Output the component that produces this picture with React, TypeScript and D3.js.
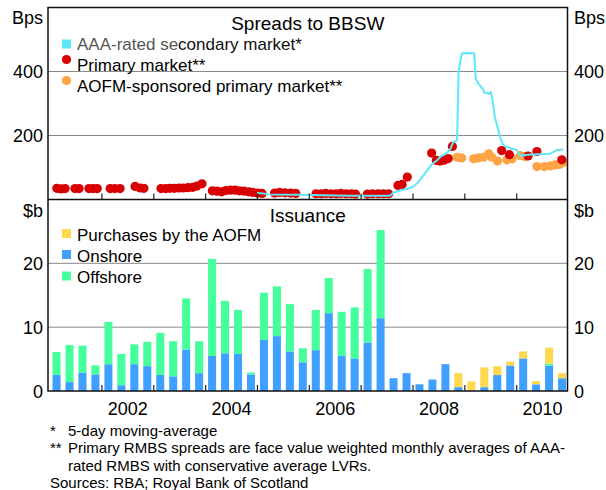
import React from 'react';
import * as d3 from 'd3';

const W = 606;
const H = 490;

// ---- Spreads to BBSW (bps) ----
const aaaSecondaryDates = [
  2004.99, 2005.24, 2005.82, 2006.21, 2006.79, 2007.56, 2007.62, 2007.75, 2007.88, 2008.0,
  2008.07, 2008.14, 2008.27, 2008.36, 2008.46, 2008.54, 2008.65, 2008.72, 2008.78, 2008.85,
  2008.88, 2008.94, 2008.97, 2009.18, 2009.21, 2009.26, 2009.35, 2009.37, 2009.46, 2009.5,
  2009.53, 2009.58, 2009.68, 2009.74, 2009.87, 2010.0, 2010.07, 2010.2, 2010.65, 2010.78, 2010.9,
];
const aaaSecondaryValues = [
  21, 16, 15, 13, 12, 12, 22, 28, 33, 40,
  49, 62, 90, 110, 122, 135, 145, 158, 180, 184,
  400, 455, 458, 457, 378, 362, 345, 335, 330, 336,
  314, 257, 195, 170, 160, 155, 135, 140, 143, 155, 156,
];

const primaryDates = [
  2001.13, 2001.21, 2001.29, 2001.48, 2001.56, 2001.75, 2001.83, 2001.91, 2002.16, 2002.25,
  2002.35, 2002.64, 2002.74, 2002.81, 2003.14, 2003.23, 2003.31, 2003.4, 2003.49, 2003.57,
  2003.66, 2003.75, 2003.83, 2003.93, 2004.13, 2004.22, 2004.31, 2004.39, 2004.48, 2004.57,
  2004.65, 2004.74, 2004.83, 2004.91, 2005.0, 2005.09, 2005.33, 2005.43, 2005.53, 2005.64,
  2005.74, 2006.13, 2006.23, 2006.32, 2006.42, 2006.52, 2006.61, 2006.71, 2006.81, 2006.89,
  2007.12, 2007.22, 2007.33, 2007.43, 2007.53, 2007.71, 2007.79, 2007.89, 2008.36, 2008.45,
  2008.52, 2008.6, 2008.68, 2008.76, 2009.71, 2009.86, 2010.22, 2010.39, 2010.87,
];
const primaryValues = [
  35, 33, 34, 34, 34, 34, 34, 34, 34, 34,
  34, 41, 36, 35, 34, 34, 35, 35, 36, 36,
  37, 38, 42, 49, 27, 26, 24, 28, 29, 29,
  27, 26, 24, 22, 20, 19, 20, 22, 21, 20,
  19, 18, 18, 19, 18, 18, 19, 18, 18, 17,
  17, 18, 18, 18, 18, 44, 47, 70, 145, 122,
  120, 123, 128, 166, 153, 140, 136, 150, 124,
];

const aofmSpreadDates = [
  2008.85, 2008.94, 2009.17, 2009.26, 2009.36, 2009.46, 2009.52, 2009.63, 2009.81, 2009.91,
  2010.07, 2010.16, 2010.39, 2010.53, 2010.65, 2010.74, 2010.83, 2010.9,
];
const aofmSpreadValues = [
  132, 130, 127, 130, 132, 143, 132, 120, 124, 127,
  137, 134, 103, 103, 105, 108, 110, 116,
];

// ---- Issuance ($b), quarterly ----
const quarters = [
  '2001Q1', '2001Q2', '2001Q3', '2001Q4', '2002Q1', '2002Q2', '2002Q3', '2002Q4',
  '2003Q1', '2003Q2', '2003Q3', '2003Q4', '2004Q1', '2004Q2', '2004Q3', '2004Q4',
  '2005Q1', '2005Q2', '2005Q3', '2005Q4', '2006Q1', '2006Q2', '2006Q3', '2006Q4',
  '2007Q1', '2007Q2', '2007Q3', '2007Q4', '2008Q1', '2008Q2', '2008Q3', '2008Q4',
  '2009Q1', '2009Q2', '2009Q3', '2009Q4', '2010Q1', '2010Q2', '2010Q3', '2010Q4',
];
const onshore = [
  2.5, 1.4, 2.9, 2.6, 4.2, 0.9, 4.2, 3.9,
  2.5, 2.3, 6.5, 2.8, 5.5, 5.9, 5.8, 2.6,
  8.0, 8.6, 6.2, 4.5, 6.4, 12.2, 5.5, 5.1,
  7.6, 11.4, 2.0, 2.8, 1.05, 1.8, 4.2, 0.6,
  0.1, 0.6, 2.5, 4.0, 5.1, 1.05, 4.0, 2.0,
];
const offshore = [
  3.6, 5.8, 4.2, 1.4, 6.6, 4.9, 3.1, 3.8,
  6.6, 5.5, 8.0, 5.0, 15.2, 8.2, 6.9, 0.3,
  7.4, 7.8, 7.4, 2.2, 6.3, 5.5, 6.9, 8.0,
  11.5, 13.8, 0, 0, 0, 0, 0, 0,
  0, 0, 0, 0, 0, 0, 0.3, 0,
];
const aofmPurchases = [
  0, 0, 0, 0, 0, 0, 0, 0,
  0, 0, 0, 0, 0, 0, 0, 0,
  0, 0, 0, 0, 0, 0, 0, 0,
  0, 0, 0, 0, 0, 0, 0, 2.2,
  1.4, 3.1, 1.4, 0.6, 1.1, 0.5, 2.5, 0.8,
];

const yearTicks = [2002, 2003, 2004, 2005, 2006, 2007, 2008, 2009, 2010];
const yearLabels = [2002, 2004, 2006, 2008, 2010];
const spreadTicks = [200, 400];
const issuanceTicks = [0, 10, 20];

const footnotes = [
  { mark: '*', text: '5-day moving-average' },
  { mark: '**', text: 'Primary RMBS spreads are face value weighted monthly averages of AAA-' },
  { mark: '', text: 'rated RMBS with conservative average LVRs.' },
];
const sourceText = 'Sources: RBA; Royal Bank of Scotland';

const C = {
  cyan: '#5CE8F6',
  red: '#D80000',
  orange: '#FFA445',
  blue: '#40A0FF',
  green: '#44FF9C',
  yellow: '#FFD84D',
  grid: '#8a8a8a',
};

const FONT = "'Liberation Sans', Arial, sans-serif";

export default function App() {
  const L = 48;
  const R = 567.5;
  const T = 7.5;
  const MID = 199.5;
  const B = 391;

  const x = d3.scaleLinear().domain([2000.96, 2010.98]).range([L, R]);
  const yS = d3.scaleLinear().domain([0, 600]).range([MID, T]);
  const yI = d3.scaleLinear().domain([0, 30]).range([B, MID]);
  const band = d3
    .scaleBand<string>()
    .domain(quarters)
    .range([x(2001), x(2011)])
    .paddingInner(0.38)
    .paddingOuter(0.19);

  const table = quarters.map((q, i) => ({
    q,
    onshore: onshore[i],
    offshore: offshore[i],
    aofm: aofmPurchases[i],
  }));
  const keys = ['onshore', 'offshore', 'aofm'];
  const colors: Record<string, string> = { onshore: C.blue, offshore: C.green, aofm: C.yellow };
  const stacked = d3.stack<any>().keys(keys)(table);

  const aaaLine = d3
    .line<number>()
    .x((_, i) => x(aaaSecondaryDates[i]))
    .y((d) => yS(d))(aaaSecondaryValues);

  const tickFs = 18;
  const legFs = 17;

  return (
    <div style={{ position: 'absolute', left: 0, top: 0 }}>
      <svg width={W} height={H} viewBox={`0 0 ${W} ${H}`} style={{ display: 'block', fontFamily: FONT }}>
        <defs>
          <clipPath id="topclip">
            <rect x={L} y={T} width={R - L} height={MID - T} />
          </clipPath>
        </defs>
        <rect x={0} y={0} width={W} height={H} fill="#fff" />

        {/* gridlines */}
        {spreadTicks.map((t) => (
          <line key={'gs' + t} x1={L} x2={R} y1={yS(t)} y2={yS(t)} stroke={C.grid} strokeWidth={1} />
        ))}
        {issuanceTicks
          .filter((t) => t > 0)
          .map((t) => (
            <line key={'gi' + t} x1={L} x2={R} y1={yI(t)} y2={yI(t)} stroke={C.grid} strokeWidth={1} />
          ))}

        {/* top panel marks */}
        <g clipPath="url(#topclip)">
          {aofmSpreadDates.map((d, i) => (
            <circle key={'o' + i} cx={x(d)} cy={yS(aofmSpreadValues[i])} r={4.6} fill={C.orange} />
          ))}
          {primaryDates.map((d, i) => (
            <circle key={'r' + i} cx={x(d)} cy={yS(primaryValues[i])} r={4.6} fill={C.red} />
          ))}
          <path d={aaaLine || ''} fill="none" stroke={C.cyan} strokeWidth={2} strokeLinejoin="round" />
        </g>

        {/* bottom panel bars */}
        {stacked.map((s) => (
          <g key={s.key} fill={colors[s.key]}>
            {s.map((d, i) => {
              const h = yI(d[0]) - yI(d[1]);
              if (h <= 0) return null;
              return (
                <rect
                  key={i}
                  x={band(quarters[i])}
                  y={yI(d[1])}
                  width={band.bandwidth()}
                  height={h}
                />
              );
            })}
          </g>
        ))}

        {/* x ticks */}
        {yearTicks.map((t) => (
          <g key={'xt' + t}>
            <line x1={x(t)} x2={x(t)} y1={MID} y2={MID - 6} stroke="#222" strokeWidth={1.2} />
            <line x1={x(t)} x2={x(t)} y1={B} y2={B - 6} stroke="#222" strokeWidth={1.2} />
          </g>
        ))}

        {/* frame */}
        <rect x={L} y={T} width={R - L} height={B - T} fill="none" stroke="#111" strokeWidth={1.5} />
        <line x1={L} x2={R} y1={MID} y2={MID} stroke="#111" strokeWidth={1.5} />

        {/* y labels */}
        <g fontSize={tickFs} fill="#000">
          <text x={43} y={24} textAnchor="end">Bps</text>
          <text x={574} y={24}>Bps</text>
          {spreadTicks.map((t) => (
            <g key={'ls' + t}>
              <text x={43} y={yS(t) + 6.5} textAnchor="end">{t}</text>
              <text x={574} y={yS(t) + 6.5}>{t}</text>
            </g>
          ))}
          <text x={43} y={217} textAnchor="end">$b</text>
          <text x={574} y={217}>$b</text>
          {issuanceTicks.map((t) => (
            <g key={'li' + t}>
              <text x={43} y={yI(t) + 6.5} textAnchor="end">{t}</text>
              <text x={574} y={yI(t) + 6.5}>{t}</text>
            </g>
          ))}
          {yearLabels.map((yv) => (
            <text key={'yl' + yv} x={x(yv + 0.5)} y={415} textAnchor="middle">{yv}</text>
          ))}
        </g>

        {/* titles */}
        <text x={(L + R) / 2} y={30} textAnchor="middle" fontSize={19}>Spreads to BBSW</text>
        <text x={(L + R) / 2} y={222} textAnchor="middle" fontSize={19}>Issuance</text>

        {/* top legend */}
        <g fontSize={legFs}>
          <rect x={62} y={39.5} width={9} height={9} fill={C.cyan} />
          <text x={77} y={49.5}>
            <tspan fill="#555">AAA-rated se</tspan>
            <tspan fill="#111">condary market*</tspan>
          </text>
          <circle cx={66.5} cy={59.5} r={4.6} fill={C.red} />
          <text x={77} y={70.5}>Primary market**</text>
          <circle cx={66.5} cy={80.5} r={4.6} fill={C.orange} />
          <text x={77} y={92}>AOFM-sponsored primary market**</text>
        </g>

        {/* bottom legend */}
        <g fontSize={legFs}>
          <rect x={62} y={229} width={9} height={9} fill={C.yellow} />
          <text x={77} y={240.5}>Purchases by the AOFM</text>
          <rect x={62} y={250} width={9} height={9} fill={C.blue} />
          <text x={77} y={261.5}>Onshore</text>
          <rect x={62} y={271.5} width={9} height={9} fill={C.green} />
          <text x={77} y={282.5}>Offshore</text>
        </g>

        {/* footnotes */}
        <g fontSize={15} fill="#000">
          {footnotes.map((f, i) => (
            <g key={'fn' + i}>
              {f.mark && <text x={50} y={435.5 + i * 17.5}>{f.mark}</text>}
              <text x={68} y={435.5 + i * 17.5}>{f.text}</text>
            </g>
          ))}
          <text x={50} y={488}>{sourceText}</text>
        </g>
      </svg>
    </div>
  );
}
